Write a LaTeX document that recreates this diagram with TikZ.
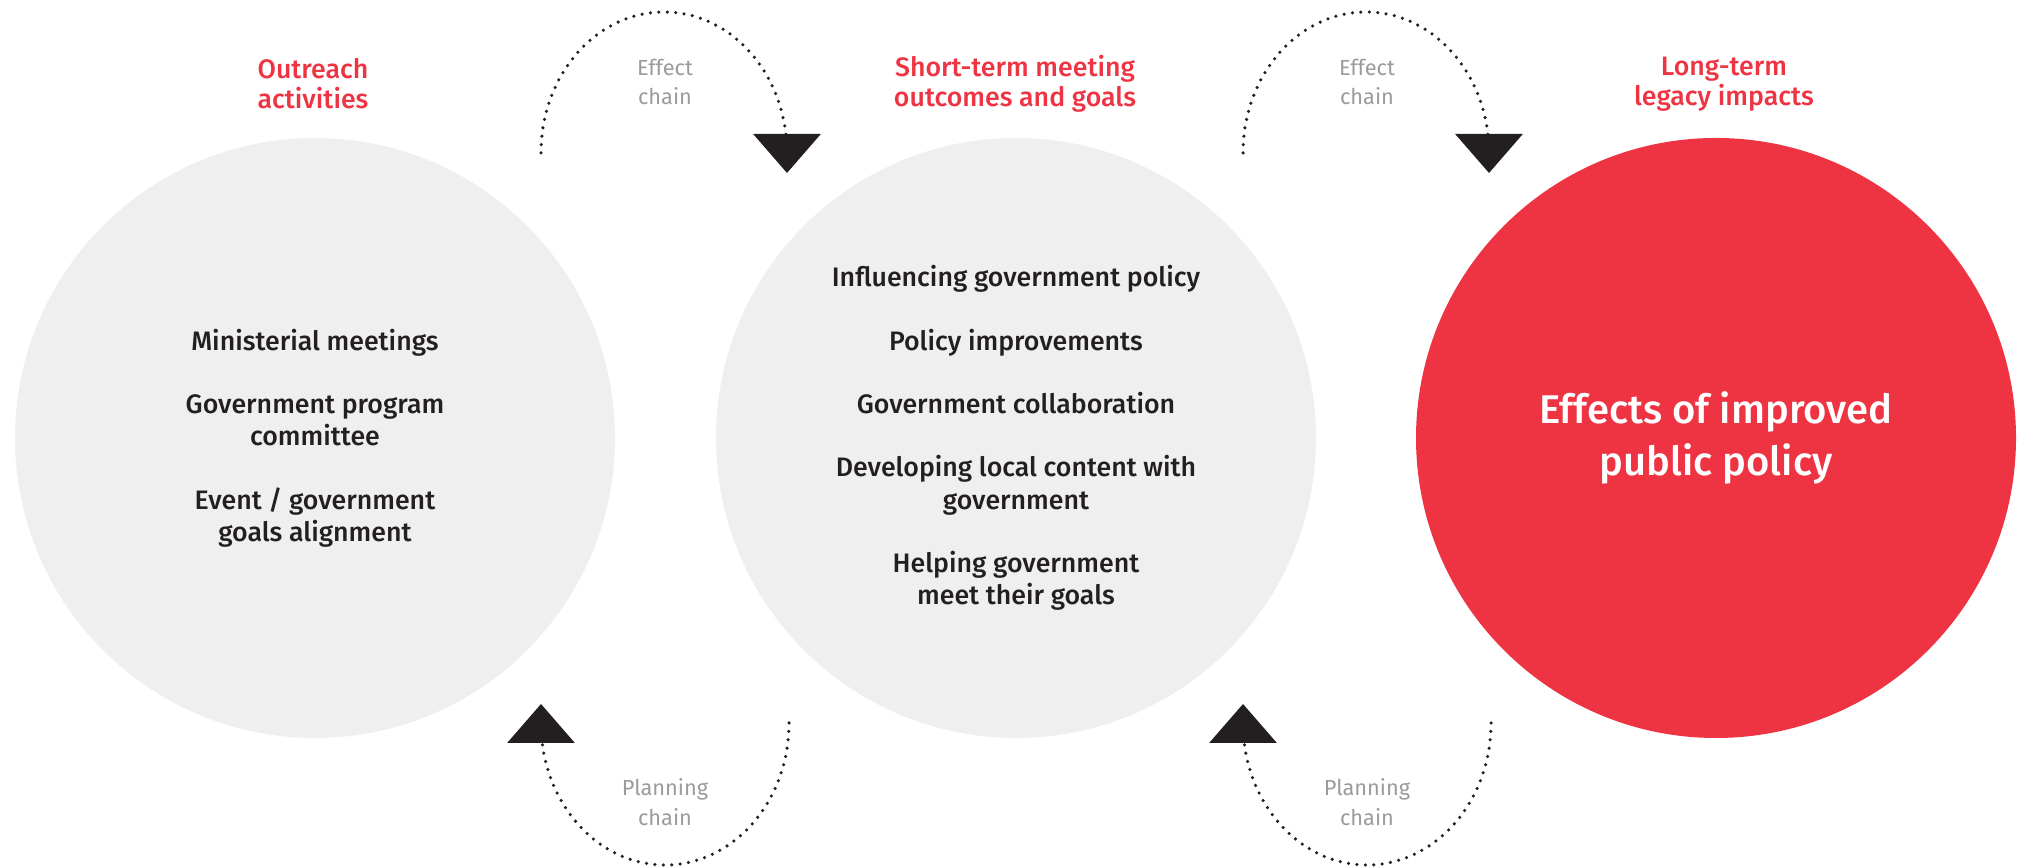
\documentclass[tikz,border=0pt]{standalone}
\usepackage{fontspec}
\setmainfont{Fira Sans}
\newfontfamily\medfont{Fira Sans Medium}
\usetikzlibrary{arrows.meta}

\definecolor{hlred}{HTML}{EE3443}
\definecolor{discgray}{HTML}{EEEFEE}
\definecolor{chaingray}{HTML}{9B9B9B}
\definecolor{inkblack}{HTML}{231F20}

\newcommand{\itemgap}{\\[0.31cm]}

\begin{document}
\begin{tikzpicture}[
    disc/.style={circle, minimum size=6cm, inner sep=0pt, fill=discgray,
        text=inkblack, align=center,
        font=\medfont\fontsize{7.6}{9.2}\selectfont,
        execute at begin node={\rule{0pt}{0.42cm}}},
    heading/.style={align=center, text=hlred,
        font=\medfont\fontsize{7.6}{8.6}\selectfont},
    chainlabel/.style={align=center, text=chaingray,
        font=\fontsize{6.2}{8.5}\selectfont},
    chain/.style={inkblack, line width=1pt, line cap=round,
        dash pattern=on 0pt off 2.4pt,
        -{Triangle[width=0.67cm, length=0.39cm]}}
    ]
    \useasboundingbox (0,0) rectangle (20.18,8.67);

    % Circles
    \node[disc] (outreach) at (3.15,4.29) {Ministerial meetings\itemgap
        Government program\\committee\itemgap
        Event / government\\goals alignment};
    \node[disc] (shortterm) at (10.16,4.29) {Influencing government policy\itemgap
        Policy improvements\itemgap
        Government collaboration\itemgap
        Developing local content with\\government\itemgap
        Helping government\\meet their goals};
    \node[disc, fill=hlred, text=white,
        font=\medfont\fontsize{11.4}{14.6}\selectfont,
        execute at begin node={\rule{0pt}{0.64cm}}] (longterm) at (17.16,4.29)
        {Effects of improved\\public policy};

    % Headings
    \node[heading] (outreach title) at (3.13,7.83) {Outreach\\activities};
    \node[heading] (shortterm title) at (10.15,7.83) {Short-term meeting\\outcomes and goals};
    \node[heading] (longterm title) at (17.24,7.83) {Long-term\\legacy impacts};

    % Effect chains
    \coordinate (effect1) at (5.41,7.14);
    \coordinate (effect2) at (12.43,7.14);
    \draw[chain] (effect1) arc[start angle=180, end angle=0, x radius=1.23cm, y radius=1.41cm]
        -- ++(0,-0.2);
    \draw[chain] (effect2) arc[start angle=180, end angle=0, x radius=1.23cm, y radius=1.41cm]
        -- ++(0,-0.2);
    \node[chainlabel] (effect1 label) at (6.65,7.85) {Effect\\chain};
    \node[chainlabel] (effect2 label) at (13.67,7.85) {Effect\\chain};

    % Planning chains
    \coordinate (plan1) at (7.89,1.44);
    \coordinate (plan2) at (14.91,1.44);
    \draw[chain] (plan1) arc[start angle=0, end angle=-180, x radius=1.24cm, y radius=1.42cm]
        -- ++(0,0.19);
    \draw[chain] (plan2) arc[start angle=0, end angle=-180, x radius=1.24cm, y radius=1.42cm]
        -- ++(0,0.19);
    \node[chainlabel] (plan1 label) at (6.65,0.65) {Planning\\chain};
    \node[chainlabel] (plan2 label) at (13.67,0.65) {Planning\\chain};
\end{tikzpicture}
\end{document}
